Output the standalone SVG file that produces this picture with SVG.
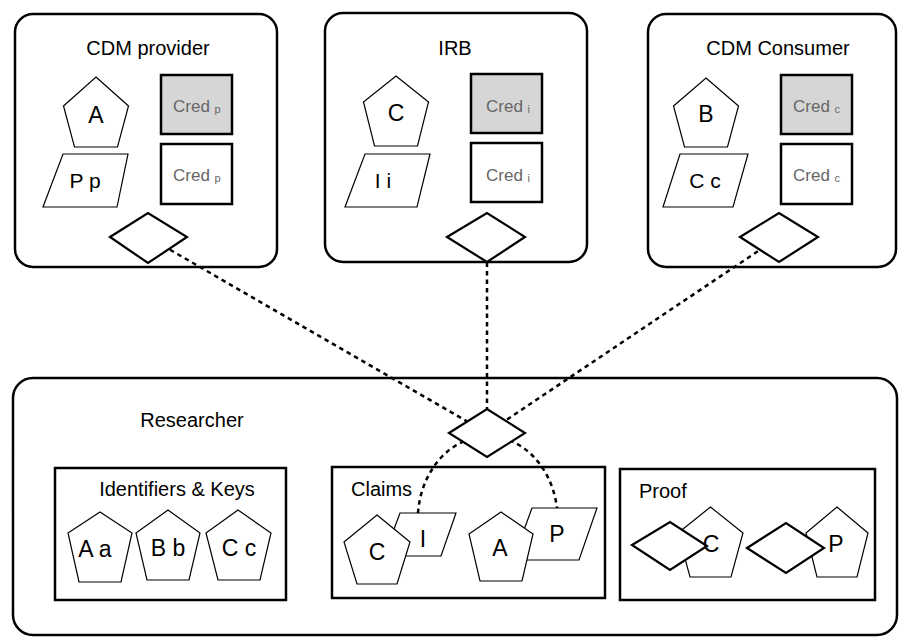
<svg xmlns="http://www.w3.org/2000/svg" width="899" height="637" viewBox="0 0 899 637">
<style>
.box{fill:#fff;stroke:#000;stroke-width:2.5}
.sub{fill:#fff;stroke:#000;stroke-width:2.5}
.cred{stroke:#000;stroke-width:2.5}
.g{fill:#d6d6d6}
.w{fill:#fff}
.shape{fill:#fff;stroke:#000;stroke-width:1.2}
.dia{fill:#fff;stroke:#000;stroke-width:2.2}
.conn{fill:none;stroke:#000;stroke-width:2.5;stroke-dasharray:4.5 4}
text{font-family:"Liberation Sans",Arial,Helvetica,sans-serif;fill:#000}
.t{font-size:20px}
.l{font-size:23px;text-anchor:middle}
.c{font-size:17px;fill:#666}
.s{font-size:11px;fill:#666}
.m{text-anchor:middle}
</style>
<g id="cdm-provider">
<rect class="box" x="15" y="14" width="262" height="253" rx="18"/>
<text class="t m" x="148" y="55">CDM provider</text>
<polygon class="shape" points="96,77 128.5,106 117.5,147 74.5,147 63.5,106"/>
<text class="l" x="96" y="123">A</text>
<polygon class="shape" points="63,154 128,154 117,207 43,207"/>
<text class="l" x="85" y="188" style="font-size:21px">P p</text>
<rect class="cred g" x="161" y="75" width="71" height="59"/>
<text class="c" x="173" y="112">Cred <tspan class="s" dy="1">p</tspan></text>
<rect class="cred w" x="161" y="144" width="71" height="60"/>
<text class="c" x="173" y="181">Cred <tspan class="s" dy="1">p</tspan></text>
</g>
<g id="irb">
<rect class="box" x="325" y="13" width="262" height="249" rx="18"/>
<text class="t m" x="455" y="55">IRB</text>
<polygon class="shape" points="396,76 428.5,102 417.5,146 374.5,146 363.5,102"/>
<text class="l" x="396" y="121">C</text>
<polygon class="shape" points="365,154 430,154 417,207 345,207"/>
<text class="l" x="383" y="188" style="font-size:21px">I i</text>
<rect class="cred g" x="471" y="74" width="71" height="59"/>
<text class="c" x="486" y="112">Cred <tspan class="s" dy="1">i</tspan></text>
<rect class="cred w" x="471" y="143" width="71" height="59"/>
<text class="c" x="486" y="181">Cred <tspan class="s" dy="1">i</tspan></text>
</g>
<g id="cdm-consumer">
<rect class="box" x="648" y="14" width="248" height="253" rx="18"/>
<text class="t m" x="778" y="55">CDM Consumer</text>
<polygon class="shape" points="706,78 738.5,106 727.5,147 684.5,147 673.5,106"/>
<text class="l" x="706" y="122">B</text>
<polygon class="shape" points="680,154 748,154 733,207 663,207"/>
<text class="l" x="705" y="188" style="font-size:21px">C c</text>
<rect class="cred g" x="781" y="75" width="71" height="59"/>
<text class="c" x="793" y="112">Cred <tspan class="s" dy="1">c</tspan></text>
<rect class="cred w" x="781" y="144" width="71" height="60"/>
<text class="c" x="793" y="181">Cred <tspan class="s" dy="1">c</tspan></text>
</g>
<g id="researcher">
<rect class="box" x="13" y="378" width="884" height="257" rx="20"/>
<text class="t m" x="192" y="427">Researcher</text>
</g>
<g id="identifiers-keys">
<rect class="sub" x="55" y="468" width="231" height="132"/>
<text class="t m" x="177" y="496">Identifiers &amp; Keys</text>
<polygon class="shape" points="100,512 132,533 121,582 79,582 68,533"/>
<text class="l" x="95" y="557">A a</text>
<polygon class="shape" points="168,510 200,533 189,580 147,580 136,533"/>
<text class="l" x="168" y="556">B b</text>
<polygon class="shape" points="238,510 271,533 260,580 218,580 206,533"/>
<text class="l" x="239" y="556">C c</text>
</g>
<g id="claims">
<rect class="sub" x="332" y="467" width="273" height="131"/>
<text class="t" x="351" y="496">Claims</text>
</g>
<g id="proof">
<rect class="sub" x="620" y="469" width="255" height="131"/>
<text class="t" x="639" y="498">Proof</text>
</g>
<g id="connectors">
<line class="conn" x1="148" y1="237" x2="487" y2="433"/>
<line class="conn" x1="487" y1="237" x2="487" y2="433"/>
<line class="conn" x1="779" y1="237" x2="487" y2="433"/>
<path class="conn" d="M418,513 A70,84 0 0 1 557,508"/>
</g>
<g id="provider-diamond"><polygon class="dia" points="110,237 148,213 187,237 148,263"/></g>
<g id="irb-diamond"><polygon class="dia" points="447,237 487,213 525,237 487,262"/></g>
<g id="consumer-diamond"><polygon class="dia" points="740,237 779,213 818,237 779,262"/></g>
<g id="researcher-diamond"><polygon class="dia" points="449,433 487,409 525,433 487,457"/></g>
<g id="claim-c-i">
<polygon class="shape" points="400,513 456,513 441,556 384,556"/>
<text class="l" x="423" y="547">I</text>
<polygon class="shape" points="377,515 410,542 397,584 357,584 344,542"/>
<text class="l" x="377" y="560">C</text>
</g>
<g id="claim-a-p">
<polygon class="shape" points="532,508 597,508 579,560 513,560"/>
<text class="l" x="557" y="542">P</text>
<polygon class="shape" points="501,512 533,534 522,581 480,581 469,534"/>
<text class="l" x="500" y="556">A</text>
</g>
<g id="proof-c">
<polygon class="shape" points="710.5,507 743,533 731,577 690,577 678,533"/>
<polygon class="dia" points="632,545 670,522 707,546 670,570"/>
<text class="l" x="711" y="552">C</text>
</g>
<g id="proof-p">
<polygon class="shape" points="837,507 868,533 857,577 817,577 806,533"/>
<polygon class="dia" points="747,548 786,523 824,548 786,573"/>
<text class="l" x="836" y="552">P</text>
</g>
</svg>
